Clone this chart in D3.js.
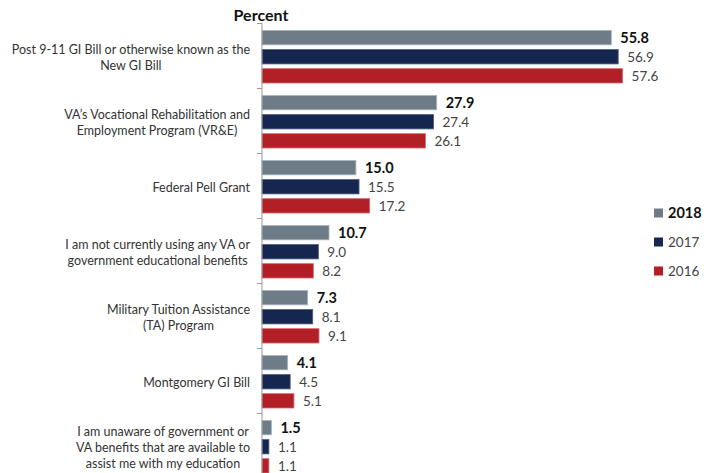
<!DOCTYPE html>
<html>
<head>
<meta charset="utf-8">
<script src="https://cdn.jsdelivr.net/npm/d3@7"></script>
<style>
  html, body { margin: 0; padding: 0; background: #fff; }
  svg { display: block; }
  text { font-family: Lato, "Open Sans", sans-serif; }
</style>
</head>
<body>
<svg id="chart" width="704" height="473"></svg>
<script>
const categories = [
  ["Post 9-11 GI Bill or otherwise known as the", "New GI Bill"],
  ["VA\u2019s Vocational Rehabilitation  and", "Employment Program (VR&E)"],
  ["Federal Pell Grant"],
  ["I am not currently using any VA or", "government educational benefits"],
  ["Military Tuition Assistance", "(TA) Program"],
  ["Montgomery GI Bill"],
  ["I am unaware of government or", "VA benefits that are available to", "assist me with my education"]
];
const seriesNames = ["2018", "2017", "2016"];
const values2018 = [55.8, 27.9, 15.0, 10.7, 7.3, 4.1, 1.5];
const values2017 = [56.9, 27.4, 15.5, 9.0, 8.1, 4.5, 1.1];
const values2016 = [57.6, 26.1, 17.2, 8.2, 9.1, 5.1, 1.1];
const colors = ["#6e7c88", "#15274f", "#b21f27"];
const strokes = ["#a9b3bc", "#4c5a80", "#d9666b"];

const seriesValues = [values2018, values2017, values2016];
const svg = d3.select("#chart");
const catIdx = categories.map((c, i) => i);

const x = d3.scaleLinear().domain([0, 70]).range([262, 262 + 70 * 6.26]);
const y = d3.scaleBand().domain(catIdx).range([23, 478]).paddingInner(0);
const yIn = d3.scaleBand().domain(seriesNames).range([7.5, 60]).paddingInner(0.25);

// Title
svg.append("text").attr("x", 261).attr("y", 21).attr("text-anchor", "middle")
  .attr("font-size", 16).attr("font-weight", "bold").attr("fill", "#111").text("Percent");

// Bars
const groups = svg.selectAll("g.grp").data(catIdx).join("g").attr("class", "grp")
  .attr("transform", i => `translate(0,${y(i)})`);

seriesNames.forEach((s, si) => {
  groups.append("rect")
    .attr("x", x(0))
    .attr("y", yIn(s))
    .attr("width", i => x(seriesValues[si][i]) - x(0))
    .attr("height", yIn.bandwidth())
    .attr("fill", colors[si])
    .attr("stroke", strokes[si])
    .attr("stroke-width", 0.8);
  groups.append("text")
    .attr("x", i => x(seriesValues[si][i]) + 9)
    .attr("y", yIn(s) + yIn.bandwidth() / 2)
    .attr("dy", "0.36em")
    .attr("font-size", si === 0 ? 14.5 : 13.5)
    .attr("font-weight", si === 0 ? "bold" : "normal")
    .attr("fill", si === 0 ? "#111" : "#444")
    .text(i => d3.format(".1f")(seriesValues[si][i]));
});

// Axis
const axis = d3.axisLeft(d3.scaleLinear().domain([0, 7]).range([23, 478]))
  .tickValues(d3.range(0, 8)).tickSize(5).tickFormat("");
const ax = svg.append("g").attr("transform", `translate(${x(0)},0)`).call(axis);
ax.select(".domain").attr("stroke", "#999").attr("d", "M0,23V478");
ax.selectAll(".tick line").attr("stroke", "#999");

// Category labels: centered lines, block right-aligned at x=250
groups.each(function(i) {
  const g = d3.select(this);
  const lines = categories[i];
  const lh = 16;
  const t = g.append("text").attr("font-size", 12.5).attr("fill", "#333").attr("text-anchor", "middle");
  const mid = y.bandwidth() / 2 + 2;
  const spans = lines.map((l, k) => t.append("tspan").attr("y", mid + (k - (lines.length - 1) / 2) * lh).attr("dy", "0.35em").text(l));
  const maxW = d3.max(spans, sp => sp.node().getComputedTextLength());
  spans.forEach(sp => sp.attr("x", 250 - maxW / 2));
});

// Legend
const legend = svg.append("g");
seriesNames.forEach((s, si) => {
  const ly = 213 + si * 29;
  legend.append("rect").attr("x", 654).attr("y", ly - 4.5).attr("width", 9).attr("height", 9).attr("fill", colors[si]);
  legend.append("text").attr("x", 668).attr("y", ly).attr("dy", "0.36em")
    .attr("font-size", si === 0 ? 14.5 : 13.5)
    .attr("font-weight", si === 0 ? "bold" : "normal")
    .attr("fill", si === 0 ? "#111" : "#444").text(s);
});
</script>
</body>
</html>
